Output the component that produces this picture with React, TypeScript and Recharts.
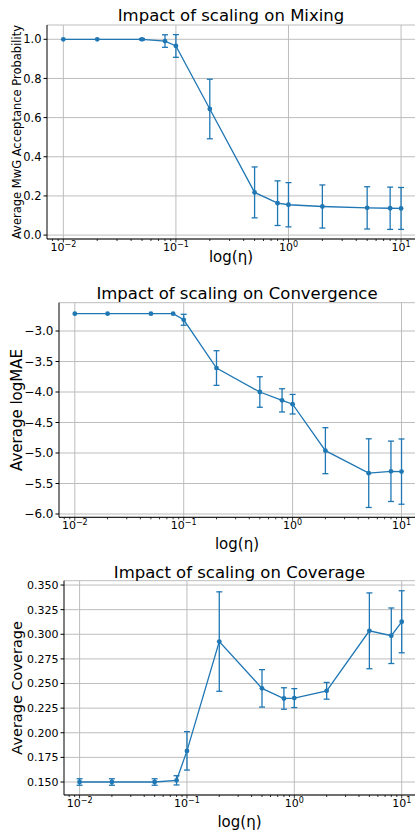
import React from 'react';
import { ComposedChart, Line, ErrorBar, XAxis, YAxis, CartesianGrid, ReferenceLine } from 'recharts';

// scaling factors that were swept
const etas = [0.01, 0.02, 0.05, 0.08, 0.1, 0.2, 0.5, 0.8, 1, 2, 5, 8, 10];

// MwG acceptance probability
const mixingMean = [1.0, 1.0, 1.0, 0.991, 0.966, 0.644, 0.218, 0.163, 0.155, 0.146, 0.139, 0.137, 0.136];
const mixingErr = [null, null, 0.004, 0.032, 0.058, 0.152, 0.13, 0.114, 0.113, 0.11, 0.108, 0.108, 0.107];

// log mean absolute error
const convMean = [-2.716, -2.716, -2.716, -2.716, -2.816, -3.607, -4.0, -4.137, -4.2, -4.962, -5.33, -5.3, -5.305];
const convErr = [null, null, null, null, 0.09, 0.284, 0.25, 0.19, 0.16, 0.377, 0.563, 0.495, 0.535];

// coverage
const covMean = [0.15, 0.15, 0.15, 0.1517, 0.1816, 0.2926, 0.2451, 0.2348, 0.2352, 0.2426, 0.3035, 0.2985, 0.3127];
const covErr = [0.0033, 0.0033, 0.0033, 0.0047, 0.0195, 0.0505, 0.019, 0.0109, 0.0096, 0.0085, 0.0385, 0.0282, 0.0315];

const majorTicks = [0.01, 0.1, 1, 10];
const minorTicks = [
  0.008, 0.009,
  0.02, 0.03, 0.04, 0.05, 0.06, 0.07, 0.08, 0.09,
  0.2, 0.3, 0.4, 0.5, 0.6, 0.7, 0.8, 0.9,
  2, 3, 4, 5, 6, 7, 8, 9,
];
const xTicks = [...majorTicks, ...minorTicks].sort((a, b) => a - b);

const mixingTicks = [0, 0.2, 0.4, 0.6, 0.8, 1.0];
const convTicks = [-6, -5.5, -5, -4.5, -4, -3.5, -3];
const covTicks = [0.15, 0.175, 0.2, 0.225, 0.25, 0.275, 0.3, 0.325, 0.35];

const BLUE = '#1f77b4';
const GRID = '#bdbdbd';
const FONT = '"DejaVu Sans", sans-serif';
const X_DOMAIN = [0.00716, 13.3];
const TICK_SIZE = 3.5;
const TICK_MARGIN = 2;

const LogTick = ({ x, y, payload }: any) => {
  const axisY = y - TICK_SIZE - TICK_MARGIN;
  const v = payload.value;
  const exp = Math.round(Math.log10(v));
  const major = Math.abs(Math.log10(v) - exp) < 1e-6;
  return (
    <g>
      <line x1={x} x2={x} y1={axisY} y2={axisY + (major ? 3.5 : 2)} stroke="#000" strokeWidth={0.8} />
      {major && (
        <text x={x} y={axisY + 12} textAnchor="middle" fontSize={11} fill="#000" fontFamily={FONT}>
          <tspan>10</tspan>
          <tspan dy={-4.5} fontSize={8}>{exp < 0 ? `\u2212${-exp}` : `${exp}`}</tspan>
        </text>
      )}
    </g>
  );
};

type PanelProps = {
  top: number;
  height: number;
  plotLeft: number;
  plotTop: number;
  xAxisHeight: number;
  title: string;
  titleY: number;
  xLabelY: number;
  yLabel: string;
  yLabelSize: number;
  tickFont: number;
  mean: number[];
  err: (number | null)[];
  yDomain: number[];
  yTicks: number[];
  fmt: (v: number) => string;
};

const Panel = (p: PanelProps) => {
  const data = etas.map((eta, i) => ({ eta, value: p.mean[i], err: p.err[i] }));
  const W = 415;
  const plotBottom = p.height - p.xAxisHeight;
  const cx = (p.plotLeft + W) / 2;
  const cy = (p.plotTop + plotBottom) / 2;
  return (
    <div style={{ position: 'absolute', left: 0, top: p.top, width: W, height: p.height }}>
      <ComposedChart
        width={W}
        height={p.height}
        data={data}
        margin={{ top: p.plotTop, right: 0, bottom: 0, left: 0 }}
      >
        <CartesianGrid vertical={false} stroke={GRID} strokeWidth={1} />
        {majorTicks.map((t) => (
          <ReferenceLine key={t} x={t} stroke={GRID} strokeWidth={1} />
        ))}
        <XAxis
          dataKey="eta"
          type="number"
          scale="log"
          domain={X_DOMAIN}
          allowDataOverflow
          ticks={xTicks}
          interval={0}
          height={p.xAxisHeight}
          tickSize={TICK_SIZE}
          tickMargin={TICK_MARGIN}
          tickLine={false}
          axisLine={{ stroke: '#000', strokeWidth: 1 }}
          tick={(props: any) => <LogTick {...props} />}
        />
        <XAxis
          xAxisId="top"
          orientation="top"
          type="number"
          scale="log"
          domain={X_DOMAIN}
          allowDataOverflow
          height={0}
          tick={false}
          tickLine={false}
          axisLine={{ stroke: '#333', strokeWidth: 1 }}
        />
        <YAxis
          type="number"
          domain={p.yDomain}
          allowDataOverflow
          ticks={p.yTicks}
          interval={0}
          width={p.plotLeft}
          stroke="#000"
          tickSize={TICK_SIZE}
          tickMargin={TICK_MARGIN}
          tick={{ fill: '#000', fontSize: p.tickFont, fontFamily: FONT }}
          tickFormatter={p.fmt}
        />
        <Line
          dataKey="value"
          stroke={BLUE}
          strokeWidth={1.3}
          dot={{ r: 2.4, fill: BLUE, stroke: BLUE, strokeWidth: 0 }}
          isAnimationActive={false}
        >
          <ErrorBar dataKey="err" direction="y" width={3} stroke={BLUE} strokeWidth={1.3} isAnimationActive={false} />
        </Line>
      </ComposedChart>
      <svg
        width={W}
        height={p.height}
        style={{ position: 'absolute', left: 0, top: 0, pointerEvents: 'none' }}
        fontFamily={FONT}
      >
        <text x={cx} y={p.titleY} textAnchor="middle" fontSize={16.5} fill="#000">{p.title}</text>
        <text x={cx} y={p.xLabelY} textAnchor="middle" fontSize={15} fill="#000">log(η)</text>
        <text
          x={17}
          y={cy}
          textAnchor="middle"
          dominantBaseline="central"
          fontSize={p.yLabelSize}
          fill="#000"
          transform={`rotate(-90 17 ${cy})`}
        >
          {p.yLabel}
        </text>
      </svg>
    </div>
  );
};

export default function App() {
  return (
    <div style={{ position: 'absolute', left: 0, top: 0, width: 415, height: 831, background: '#fff', fontFamily: FONT }}>
      <Panel
        top={0}
        height={277}
        plotLeft={47}
        plotTop={25}
        xAxisHeight={38}
        title="Impact of scaling on Mixing"
        titleY={21}
        xLabelY={261.5}
        yLabel="Average MwG Acceptance Probability"
        yLabelSize={11.5}
        tickFont={11.5}
        mean={mixingMean}
        err={mixingErr}
        yDomain={[-0.02, 1.073]}
        yTicks={mixingTicks}
        fmt={(v) => v.toFixed(1)}
      />
      <Panel
        top={280}
        height={275}
        plotLeft={59}
        plotTop={22.7}
        xAxisHeight={37.7}
        title="Impact of scaling on Convergence"
        titleY={19}
        xLabelY={268.9}
        yLabel="Average logMAE"
        yLabelSize={15}
        tickFont={12}
        mean={convMean}
        err={convErr}
        yDomain={[-6.054, -2.536]}
        yTicks={convTicks}
        fmt={(v) => v.toFixed(1).replace('-', '\u2212')}
      />
      <Panel
        top={555}
        height={276}
        plotLeft={64}
        plotTop={25.7}
        xAxisHeight={36}
        title="Impact of scaling on Coverage"
        titleY={22.7}
        xLabelY={272.2}
        yLabel="Average Coverage"
        yLabelSize={14.5}
        tickFont={11}
        mean={covMean}
        err={covErr}
        yDomain={[0.1368, 0.3544]}
        yTicks={covTicks}
        fmt={(v) => v.toFixed(3)}
      />
    </div>
  );
}
